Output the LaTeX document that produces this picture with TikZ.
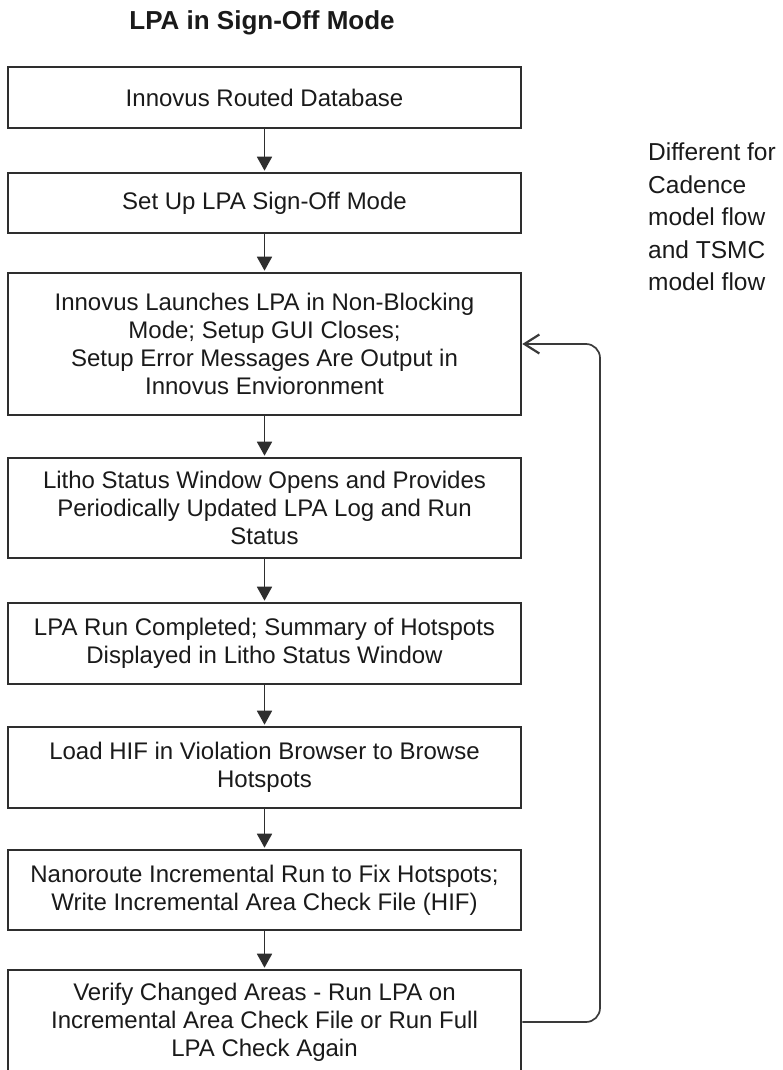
\documentclass[tikz,border=0pt]{standalone}
\usepackage{fontspec}
\setmainfont{Liberation Sans}
\usetikzlibrary{arrows.meta}
\definecolor{edge}{HTML}{2E2E2E}
\definecolor{ink}{HTML}{1A1A1A}
\definecolor{loopline}{HTML}{3A3A3A}
\begin{document}
\begin{tikzpicture}[x=1pt,y=-1pt,
  stepbox/.style={draw=edge, line width=2.6pt, fill=white, inner sep=0pt,
    minimum width=513pt, align=center, text=ink,
    font=\fontsize{24}{28}\selectfont},
  flow/.style={draw=edge, line width=1.8pt,
    -{Triangle[length=14pt,width=15pt]}, shorten >=1pt},
  back/.style={draw=loopline, line width=1.7pt, rounded corners=14pt,
    -{Straight Barb[length=15pt,width=19pt,line width=2.2pt]}},
  titletext/.style={font=\fontsize{26}{30}\selectfont\bfseries, text=ink},
  sidenote/.style={font=\fontsize{24.5}{32.5}\selectfont, align=left,
    text=ink, anchor=north west, inner sep=0pt}]
\useasboundingbox (0,0) rectangle (783,1070);

% title
\node[titletext] (title) at (262,23) {LPA in Sign-Off Mode};

% flow steps
\node[stepbox, minimum height=61pt] (b1) at (264.5,97.5)
  {Innovus Routed Database};
\node[stepbox, minimum height=60pt] (b2) at (264.5,203)
  {Set Up LPA Sign-Off Mode};
\node[stepbox, minimum height=142pt] (b3) at (264.5,344)
  {Innovus Launches LPA in Non-Blocking\\Mode; Setup GUI Closes;\\Setup Error Messages Are Output in\\Innovus Envioronment};
\node[stepbox, minimum height=100pt] (b4) at (264.5,508)
  {Litho Status Window Opens and Provides\\Periodically Updated LPA Log and Run\\Status};
\node[stepbox, minimum height=81pt] (b5) at (264.5,643.5)
  {LPA Run Completed; Summary of Hotspots\\Displayed in Litho Status Window};
\node[stepbox, minimum height=81pt] (b6) at (264.5,767.5)
  {Load HIF in Violation Browser to Browse\\Hotspots};
\node[stepbox, minimum height=80pt] (b7) at (264.5,890)
  {Nanoroute Incremental Run to Fix Hotspots;\\Write Incremental Area Check File (HIF)};
\node[stepbox, minimum height=104pt] (b8) at (264.5,1022)
  {Verify Changed Areas - Run LPA on\\Incremental Area Check File or Run Full\\LPA Check Again};

% side note
\node[sidenote] (note) at (648,143)
  {Different for\\Cadence\\model flow\\and TSMC\\model flow};

% connectors
\draw[flow] (b1) -- (b2);
\draw[flow] (b2) -- (b3);
\draw[flow] (b3) -- (b4);
\draw[flow] (b4) -- (b5);
\draw[flow] (b5) -- (b6);
\draw[flow] (b6) -- (b7);
\draw[flow] (b7) -- (b8);

% feedback loop
\coordinate (loopx) at (600,0);
\draw[back] (b8.east) -- (b8.east -| loopx) -- (b3.east -| loopx) -- (b3.east);
\end{tikzpicture}
\end{document}
